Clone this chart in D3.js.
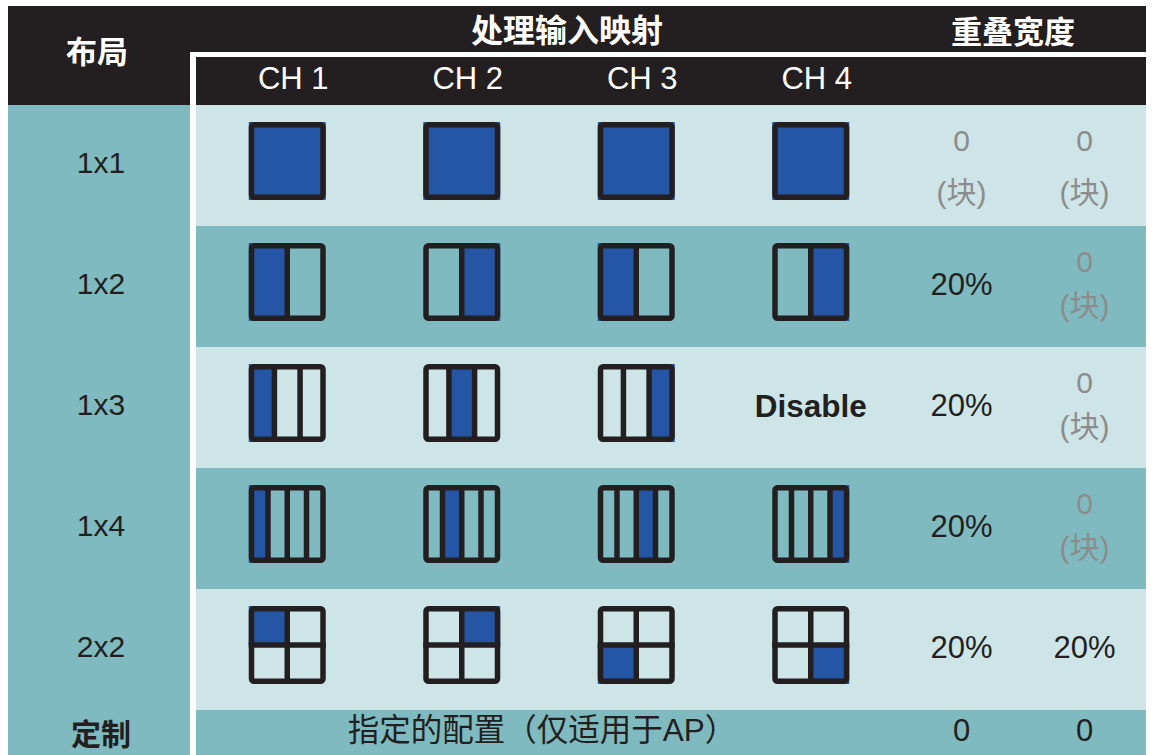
<!DOCTYPE html>
<html>
<head>
<meta charset="utf-8">
<script src="https://cdn.jsdelivr.net/npm/d3@7"></script>
<style>
    body { margin: 0; background: #fff; }
    svg { display: block; }
</style>
</head>
<body>
<div id="chart"></div>
<script>
// table content
const layouts = ["1x1", "1x2", "1x3", "1x4", "2x2"];
const channels = ["CH 1", "CH 2", "CH 3", "CH 4"];
// mapped cell of the layout grid (row-major) for each channel, null = disabled
const mapped = [
    [0, 0, 0, 0],
    [0, 1, 0, 1],
    [0, 1, 2, null],
    [0, 1, 2, 3],
    [0, 1, 2, 3]
];
const overlapCols = ["h", "v"];
const overlapH = ["0 (块)", "20%", "20%", "20%", "20%"];
const overlapV = ["0 (块)", "0 (块)", "0 (块)", "0 (块)", "20%"];
const headLayout = "布局";
const headMapping = "处理输入映射";
const headOverlap = "重叠宽度";
const disabledText = "Disable";
const customLabel = "定制";
const customText = "指定的配置（仅适用于AP）";
const customOverlap = ["0", "0"];

const W = 1152, H = 755;
const L = 8, R = 1146, T = 6;
const colRight = 190, dataLeft = 196;
const headMid = 52, headBot = 105, rowH = 121;

const dark = "#231f20", teal = "#7fbac1", light = "#cde5e7",
      blue = "#2456a5", grey = "#8c8c8c";
const latin = "'Liberation Sans', Arial, 'Noto Sans CJK SC', sans-serif";
const cjk = "'Noto Sans CJK SC', sans-serif";

const svg = d3.select("#chart").append("svg")
    .attr("width", W)
    .attr("height", H);

const y = d3.scaleBand()
    .domain(layouts)
    .range([headBot, headBot + rowH * layouts.length]);
const x = d3.scaleBand()
    .domain(channels)
    .range([200, 898]);
const xo = d3.scaleBand()
    .domain(overlapCols)
    .range([900, R]);
const yEnd = y.range()[1];

// backgrounds
svg.append("rect")
    .attr("x", L).attr("y", T)
    .attr("width", R - L).attr("height", headBot - T)
    .attr("fill", dark);
svg.append("rect")
    .attr("x", L).attr("y", headBot)
    .attr("width", colRight - L).attr("height", H - headBot)
    .attr("fill", teal);

svg.append("g")
    .selectAll("rect")
    .data(layouts)
    .join("rect")
    .attr("x", dataLeft)
    .attr("y", (d) => y(d))
    .attr("width", R - dataLeft)
    .attr("height", y.bandwidth())
    .attr("fill", (d, i) => (i % 2 ? teal : light));

svg.append("rect")
    .attr("x", dataLeft).attr("y", yEnd)
    .attr("width", R - dataLeft).attr("height", H - yEnd)
    .attr("fill", teal);

// white separators
svg.append("rect")
    .attr("x", colRight).attr("y", headMid)
    .attr("width", dataLeft - colRight).attr("height", H - headMid)
    .attr("fill", "#fff");
svg.append("rect")
    .attr("x", colRight).attr("y", headMid)
    .attr("width", R - colRight).attr("height", 5)
    .attr("fill", "#fff");

// headers
const head = svg.append("g")
    .attr("fill", "#fff")
    .attr("font-family", cjk)
    .attr("font-weight", "bold")
    .attr("text-anchor", "middle")
    .attr("dominant-baseline", "central");
head.append("text").attr("x", 97).attr("y", 49)
    .attr("font-size", 31).text(headLayout);
head.append("text").attr("x", 567).attr("y", 28)
    .attr("font-size", 32).text(headMapping);
head.append("text").attr("x", 1013).attr("y", 29)
    .attr("font-size", 31).text(headOverlap);

svg.append("g")
    .selectAll("text")
    .data(channels)
    .join("text")
    .attr("x", (d) => x(d) + x.bandwidth() / 2 + 6)
    .attr("y", 89)
    .attr("text-anchor", "middle")
    .attr("font-family", latin)
    .attr("font-size", 31)
    .attr("fill", "#fff")
    .text((d) => d);

// row labels
svg.append("g")
    .selectAll("text")
    .data(layouts)
    .join("text")
    .attr("x", 101)
    .attr("y", (d) => y(d) + y.bandwidth() / 2 + 7.5)
    .attr("text-anchor", "middle")
    .attr("font-family", latin)
    .attr("font-size", 30)
    .attr("fill", dark)
    .text((d) => d);

// layout boxes
const boxW = 77, boxH = 78, sw = 5.5;
const cells = [];
layouts.forEach((lay, i) => {
    const [nr, nc] = lay.split("x").map(Number);
    channels.forEach((ch, j) => {
        cells.push({lay, ch, nr, nc, sel: mapped[i][j]});
    });
});

const box = svg.append("g")
    .selectAll("g")
    .data(cells)
    .join("g")
    .attr("transform", (d) =>
        `translate(${x(d.ch) + x.bandwidth() / 2},${y(d.lay) + y.bandwidth() / 2 - 4.5})`
    );

box.filter((d) => d.sel === null)
    .append("text")
    .attr("y", 14)
    .attr("text-anchor", "middle")
    .attr("font-family", latin)
    .attr("font-weight", "bold")
    .attr("font-size", 31.5)
    .attr("fill", dark)
    .text(disabledText);

const grid = box.filter((d) => d.sel !== null);

grid.selectAll(".cell")
    .data((d) => d3.range(d.nr * d.nc).map((k) => ({k, ...d})))
    .join("rect")
    .attr("class", "cell")
    .attr("x", (d) => -boxW / 2 + (d.k % d.nc) * boxW / d.nc)
    .attr("y", (d) => -boxH / 2 + Math.floor(d.k / d.nc) * boxH / d.nr)
    .attr("width", (d) => boxW / d.nc)
    .attr("height", (d) => boxH / d.nr)
    .attr("fill", (d) => (d.k === d.sel ? blue : "none"));

grid.selectAll(".vline")
    .data((d) => d3.range(1, d.nc).map((c) => -boxW / 2 + c * boxW / d.nc))
    .join("line")
    .attr("class", "vline")
    .attr("x1", (d) => d).attr("x2", (d) => d)
    .attr("y1", -boxH / 2).attr("y2", boxH / 2)
    .attr("stroke", dark)
    .attr("stroke-width", sw);

grid.selectAll(".hline")
    .data((d) => d3.range(1, d.nr).map((r) => -boxH / 2 + r * boxH / d.nr))
    .join("line")
    .attr("class", "hline")
    .attr("y1", (d) => d).attr("y2", (d) => d)
    .attr("x1", -boxW / 2).attr("x2", boxW / 2)
    .attr("stroke", dark)
    .attr("stroke-width", sw);

grid.append("rect")
    .attr("x", -boxW / 2 + sw / 2)
    .attr("y", -boxH / 2 + sw / 2)
    .attr("width", boxW - sw)
    .attr("height", boxH - sw)
    .attr("rx", 2.5)
    .attr("fill", "none")
    .attr("stroke", dark)
    .attr("stroke-width", sw);

// overlap widths
const overlap = [];
layouts.forEach((lay, i) => {
    overlap.push({lay, i, col: "h", v: overlapH[i]});
    overlap.push({lay, i, col: "v", v: overlapV[i]});
});

const ov = svg.append("g")
    .selectAll("g")
    .data(overlap)
    .join("g")
    .attr("transform", (d) =>
        `translate(${xo(d.col) + xo.bandwidth() / 2},${y(d.lay)})`
    );

ov.filter((d) => !d.v.includes(" "))
    .append("text")
    .attr("y", y.bandwidth() / 2 + 8)
    .attr("text-anchor", "middle")
    .attr("font-family", latin)
    .attr("font-size", 31)
    .attr("fill", dark)
    .text((d) => d.v);

ov.filter((d) => d.v.includes(" "))
    .selectAll("text")
    .data((d) => d.v.split(" ").map((t, k) => ({t, k, i: d.i})))
    .join("text")
    .attr("y", (d) => 46 + d.k * (d.i === 0 ? 52 : 44))
    .attr("text-anchor", "middle")
    .attr("font-family", latin)
    .attr("font-size", 30)
    .attr("fill", grey)
    .text((d) => d.t);

// custom row
svg.append("text")
    .attr("x", 101).attr("y", 732)
    .attr("text-anchor", "middle")
    .attr("dominant-baseline", "central")
    .attr("font-family", cjk)
    .attr("font-weight", "bold")
    .attr("font-size", 30)
    .attr("fill", dark)
    .text(customLabel);

svg.append("text")
    .attr("x", (x.range()[0] + x.range()[1]) / 2 - 7)
    .attr("y", 730)
    .attr("text-anchor", "middle")
    .attr("dominant-baseline", "central")
    .attr("font-family", latin)
    .attr("font-size", 31.5)
    .attr("fill", dark)
    .text(customText);

svg.append("g")
    .selectAll("text")
    .data(overlapCols)
    .join("text")
    .attr("x", (d) => xo(d) + xo.bandwidth() / 2)
    .attr("y", 741)
    .attr("text-anchor", "middle")
    .attr("font-family", latin)
    .attr("font-size", 31)
    .attr("fill", dark)
    .text((d, i) => customOverlap[i]);
</script>
</body>
</html>
